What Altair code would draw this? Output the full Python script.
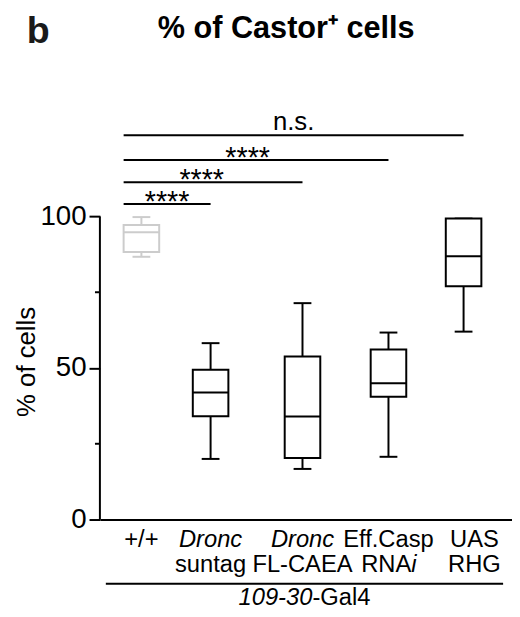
import altair as alt
import pandas as pd

# ---------------- data ----------------
genotypes = ["+/+", "Dronc suntag", "Dronc FL-CAEA", "Eff.Casp RNAi", "UAS RHG"]
label_line1 = ["+/+", "Dronc", "Dronc", "Eff.Casp", "UAS"]
label_line1_italic = [False, True, True, False, False]
label_line2 = ["", "suntag", "FL-CAEA", "RNA", "RHG"]
label_line2_italic_suffix = ["", "", "", "i", ""]

whisker_min = [86.7, 20.0, 16.7, 20.7, 62.0]
q1 = [88.3, 34.1, 20.3, 40.5, 77.0]
median = [94.8, 41.9, 34.0, 45.0, 86.9]
q3 = [97.2, 49.4, 53.8, 56.1, 99.3]
whisker_max = [99.8, 58.2, 71.4, 61.7, 99.3]

sig_reference = "+/+"
sig_targets = ["Dronc suntag", "Dronc FL-CAEA", "Eff.Casp RNAi", "UAS RHG"]
sig_levels = [104.1, 111.3, 118.6, 126.8]
sig_labels = ["****", "****", "****", "n.s."]

y_ticks = [0, 50, 100]
y_minor_ticks = [25, 75]

title_text = "% of Castor\u207a cells"
y_title = "% of cells"
driver_italic = "109-30"
driver_normal = "-Gal4"
panel_letter = "b"

# ---------------- tables ----------------
box_df = pd.DataFrame({
    "genotype": genotypes,
    "pos": list(range(len(genotypes))),
    "lo": whisker_min, "q1": q1, "med": median, "q3": q3, "hi": whisker_max,
    "l1": label_line1, "l1i": label_line1_italic,
    "l2": label_line2, "l2s": label_line2_italic_suffix,
})
ref_pos = genotypes.index(sig_reference)
sig_df = pd.DataFrame({
    "start": [ref_pos] * len(sig_targets),
    "tpos": [genotypes.index(t) for t in sig_targets],
    "level": sig_levels,
    "label": sig_labels,
})
sig_df["mid"] = (sig_df["start"] + sig_df["tpos"]) / 2
minor_df = pd.DataFrame({"v": y_minor_ticks})
axis_df = pd.DataFrame({"y0": [min(y_ticks)], "y1": [max(y_ticks)]})

W, H = 417, 414
FONT = "Liberation Sans"
GRAY = "#cccccc"

# piecewise category layout (GraphPad-style uneven spacing to fit the labels)
xs = alt.Scale(domain=[-0.6, 0, 1, 2, 3, 4, 4.645],
               range=[0, 42, 112, 205, 292, 368, W], nice=False, zero=False)
ys = alt.Scale(domain=[0, 135], nice=False, zero=True)
x_axis = alt.Axis(labels=False, ticks=False, title=None, grid=False,
                  domainColor="black", domainWidth=2)
y_axis = alt.Axis(values=y_ticks, tickSize=11, tickWidth=2, tickColor="black",
                  labelFontSize=28, labelColor="black", labelPadding=3,
                  labelFont=FONT, domain=False, grid=False,
                  title=y_title, titleFontSize=26, titleFontWeight="normal",
                  titleFont=FONT, titleColor="black",
                  titleX=-74, titleY=254, titleAngle=-90,
                  titleAlign="center", titleBaseline="middle")


def X(field):
    return alt.X(field, type="quantitative", scale=xs, axis=x_axis)


def Y(field):
    return alt.Y(field, type="quantitative", scale=ys, axis=y_axis)


col = alt.condition(alt.datum.genotype == sig_reference, alt.value(GRAY), alt.value("black"))

box_base = alt.Chart(box_df)

whisk = box_base.mark_rule(strokeWidth=2).encode(x=X("pos"), y=Y("lo"), y2="hi", color=col)
caps = box_base.transform_fold(["lo", "hi"], as_=["k", "v"]).mark_rule(
    strokeWidth=2, xOffset=-9, x2Offset=9).encode(x=X("pos"), x2="pos", y=Y("v"), color=col)
boxes = box_base.mark_rect(fill="white", strokeWidth=2, xOffset=-18, x2Offset=18).encode(
    x=X("pos"), x2="pos", y=Y("q1"), y2="q3", stroke=col)
meds = box_base.mark_rule(strokeWidth=2, xOffset=-18, x2Offset=18).encode(
    x=X("pos"), x2="pos", y=Y("med"), color=col)

yline = alt.Chart(axis_df).mark_rule(strokeWidth=2, color="black").encode(
    x=alt.value(0), y=Y("y0"), y2="y1")
minor = alt.Chart(minor_df).mark_rule(strokeWidth=2, color="black").encode(
    x=alt.value(-5), x2=alt.value(0), y=Y("v"))

sig_base = alt.Chart(sig_df)
sig_lines = sig_base.mark_rule(strokeWidth=2, color="black", xOffset=-18).encode(
    x=X("start"), x2="tpos", y=Y("level"))
stars = sig_base.transform_filter(alt.datum.label == "****").mark_text(
    fontSize=29, font=FONT, color="black", dx=-9, dy=7, baseline="alphabetic").encode(
    x=X("mid"), y=Y("level"), text="label")
ns = sig_base.transform_filter(alt.datum.label != "****").mark_text(
    fontSize=26, font=FONT, color="black", dx=-9, dy=-5, baseline="alphabetic").encode(
    x=X("mid"), y=Y("level"), text="label")

LAB = 24
# the last (rightmost) label block sits a little right of its box, as in the figure
lab_base = box_base.transform_calculate(
    lpos="datum.pos + (datum.pos == %d ? 0.145 : 0)" % (len(genotypes) - 1))
l1_norm = lab_base.transform_filter(~alt.datum.l1i).mark_text(
    fontSize=LAB, font=FONT, color="black", baseline="alphabetic").encode(
    x=X("lpos"), y=alt.value(H + 28), text="l1")
l1_ital = lab_base.transform_filter(alt.datum.l1i).mark_text(
    fontSize=LAB, font=FONT, fontStyle="italic", color="black", baseline="alphabetic").encode(
    x=X("lpos"), y=alt.value(H + 28), text="l1")
l2_plain = lab_base.transform_filter(alt.datum.l2s == "").mark_text(
    fontSize=LAB, font=FONT, color="black", baseline="alphabetic").encode(
    x=X("lpos"), y=alt.value(H + 53), text="l2")
l2_stem = lab_base.transform_filter(alt.datum.l2s != "").mark_text(
    fontSize=LAB, font=FONT, color="black", baseline="alphabetic", align="right", dx=23).encode(
    x=X("lpos"), y=alt.value(H + 53), text="l2")
l2_suffix = lab_base.transform_filter(alt.datum.l2s != "").mark_text(
    fontSize=LAB, font=FONT, fontStyle="italic", color="black", baseline="alphabetic",
    align="left", dx=23).encode(
    x=X("lpos"), y=alt.value(H + 53), text="l2s")

underline = alt.Chart(axis_df).mark_rule(strokeWidth=2, color="black").encode(
    x=alt.value(6), x2=alt.value(408), y=alt.value(H + 65))
drv_i = alt.Chart(axis_df).mark_text(
    fontSize=LAB, font=FONT, fontStyle="italic", color="black", baseline="alphabetic",
    align="right", text=driver_italic).encode(x=alt.value(215), y=alt.value(H + 86))
drv_n = alt.Chart(axis_df).mark_text(
    fontSize=LAB, font=FONT, color="black", baseline="alphabetic",
    align="left", text=driver_normal).encode(x=alt.value(215), y=alt.value(H + 86))

letter = alt.Chart(axis_df).mark_text(
    fontSize=38, font=FONT, fontWeight="bold", color="#1a1a1a", baseline="alphabetic",
    align="left", text=panel_letter).encode(x=alt.value(-74), y=alt.value(-68))

chart = alt.layer(
    whisk, caps, boxes, meds, yline, minor, sig_lines, stars, ns,
    l1_norm, l1_ital, l2_plain, l2_stem, l2_suffix, underline, drv_i, drv_n, letter
).properties(
    width=W, height=H,
    title=alt.TitleParams(title_text, fontSize=31, fontWeight="bold", font=FONT,
                          color="black", anchor="middle", frame="group", dx=-20, offset=-32),
    padding={"left": 93, "top": 100, "right": 0, "bottom": 95},
    autosize=alt.AutoSizeParams(type="none"),
).configure(font=FONT).configure_view(stroke=None)

chart.save("out.html", embed_options={"renderer": "svg", "actions": False})
